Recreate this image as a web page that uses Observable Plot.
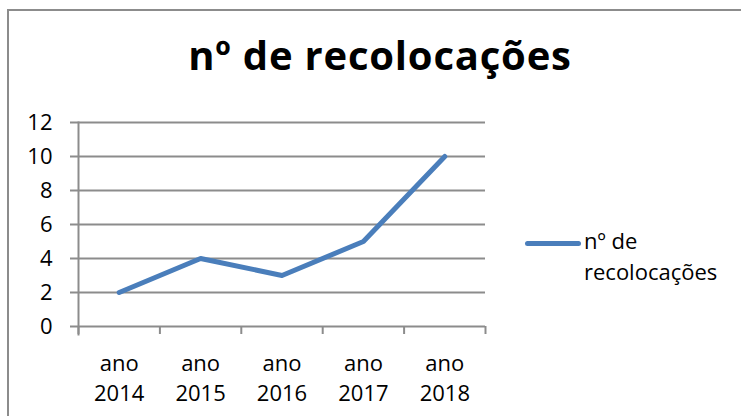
<!DOCTYPE html>
<html><head><meta charset="utf-8">
<script src="https://cdn.jsdelivr.net/npm/d3@7"></script>
<script src="https://cdn.jsdelivr.net/npm/@observablehq/plot@0.6"></script>
<style>
body{margin:0;background:#fff;}
#wrap{position:relative;width:741px;height:416px;overflow:hidden;font-family:"Open Sans",sans-serif;}
#frame{position:absolute;left:7px;top:9px;width:800px;height:500px;border-left:2px solid #8c8c8c;border-top:2px solid #8c8c8c;}
#title{position:absolute;left:0;width:760px;top:27px;text-align:center;font-weight:bold;font-size:40px;letter-spacing:0.8px;color:#000;}
#legend{position:absolute;left:525px;top:225px;font-size:22px;color:#000;line-height:31px;}
#legend .sw{position:absolute;left:0;top:16px;width:56px;height:5px;border-radius:3px;background:#4a7ebb;}
#legend .tx{position:absolute;left:59px;top:0;white-space:nowrap;}
#chart{position:absolute;left:0;top:0;}
</style></head>
<body>
<div id="wrap">
<div id="frame"></div>
<div id="title"></div>
<div id="chart"></div>
<div id="legend"><div class="sw"></div><div class="tx"></div></div>
</div>
<script>
const titleText = "nº de recolocações";
const seriesName = "nº de recolocações";
const categories = ["ano 2014","ano 2015","ano 2016","ano 2017","ano 2018"];
const values = [2, 4, 3, 5, 10];
const yTicks = [0, 2, 4, 6, 8, 10, 12];

document.getElementById("title").textContent = titleText;
document.querySelector("#legend .tx").innerHTML = seriesName.replace("de ", "de<br>");

const data = categories.map((c, i) => ({cat: c, idx: i + 0.5, v: values[i]}));
const bounds = d3.range(categories.length + 1);
const gridColor = "#8c8c8c";

const plot = Plot.plot({
  width: 741, height: 416,
  marginLeft: 78, marginRight: 256, marginTop: 122, marginBottom: 90,
  style: {fontFamily: "'Open Sans', sans-serif", fontSize: "22px", color: "#000", background: "transparent"},
  x: {domain: [0, categories.length], axis: null, label: null},
  y: {domain: [0, 12], axis: null, label: null},
  marks: [
    Plot.gridY(yTicks, {stroke: gridColor, strokeWidth: 2, strokeOpacity: 1, insetLeft: -8}),
    Plot.axisY(yTicks, {tickSize: 0, tickPadding: 26, fontSize: 22, fill: "#000", stroke: null, label: null}),
    Plot.gridX(bounds, {stroke: gridColor, strokeWidth: 2, strokeOpacity: 1, insetTop: 204, insetBottom: -8}),
    Plot.frame({anchor: "left", stroke: gridColor, strokeWidth: 2, insetBottom: -8}),
    Plot.text(data, {x: "idx", text: d => d.cat.replace(" ", "\n"), frameAnchor: "bottom", dy: 23, lineAnchor: "top", lineHeight: 1.36, fontSize: 22, fill: "#000"}),
    Plot.line(data, {x: "idx", y: "v", stroke: "#4a7ebb", strokeWidth: 5, strokeLinecap: "round", strokeLinejoin: "round"})
  ]
});
document.getElementById("chart").appendChild(plot);
</script>
</body></html>
